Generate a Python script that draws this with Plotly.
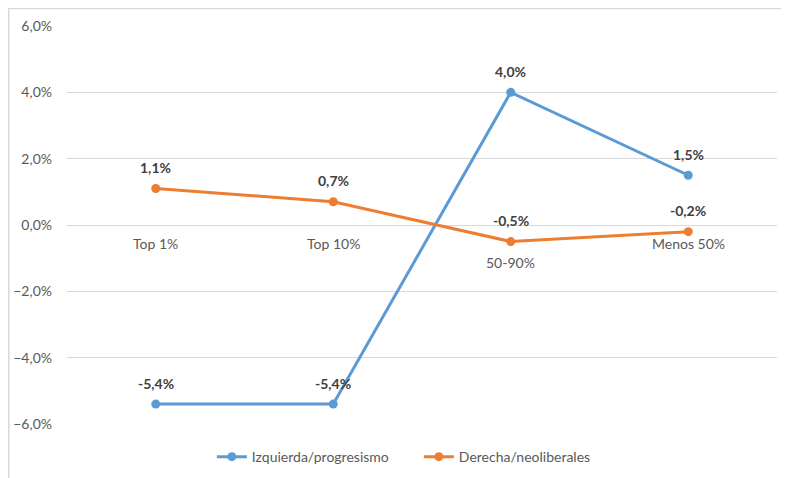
import plotly.graph_objects as go

# Data
categorias = ['Top 1%', 'Top 10%', '50-90%', 'Menos 50%']
izquierda = [-0.054, -0.054, 0.040, 0.015]
derecha = [0.011, 0.007, -0.005, -0.002]
# vertical offset of each category label (the 50-90% label sits lower)
label_shift = [-18, -18, -37, -18]

def fmt(v):
    return '{:.1f}%'.format(v * 100).replace('.', ',')

font_name = 'Lato, Open Sans, sans-serif'

fig = go.Figure()
for name, vals, color in [('Izquierda/progresismo', izquierda, '#5B9BD5'),
                          ('Derecha/neoliberales', derecha, '#ED7D31')]:
    fig.add_trace(go.Scatter(x=categorias, y=vals, name=name, mode='lines+markers',
                             line=dict(color=color, width=3),
                             marker=dict(size=9, color=color)))
    # data labels above the points
    for cat, v in zip(categorias, vals):
        fig.add_annotation(x=cat, y=v, text='<b>' + fmt(v) + '</b>', showarrow=False,
                           yshift=21, font=dict(color='#404040', size=14, family=font_name))

for cat, s in zip(categorias, label_shift):
    fig.add_annotation(x=cat, y=0, text=cat, showarrow=False, yshift=s,
                       font=dict(color='#595959', size=14, family=font_name))

# outer chart border
fig.add_shape(type='rect', xref='paper', yref='paper',
              x0=-0.082, x1=1.03, y0=-0.2, y1=1.044,
              line=dict(color='#d9d9d9', width=1.5))

fig.update_layout(
    width=781, height=470,
    margin=dict(l=59, r=12, t=18, b=54, autoexpand=False),
    paper_bgcolor='white', plot_bgcolor='white',
    separators=',.',
    font=dict(family=font_name, color='#595959', size=14),
    showlegend=True,
    legend=dict(orientation='h', x=0.204, xanchor='left', y=-0.083, yanchor='middle',
                entrywidth=162, entrywidthmode='pixels',
                font=dict(size=14, color='#595959')),
    xaxis=dict(range=[-0.5, 3.5], showticklabels=False, showgrid=False,
               zeroline=False, showline=False, automargin=False),
    yaxis=dict(range=[-0.06, 0.06], tickvals=[-0.06, -0.04, -0.02, 0, 0.02, 0.04, 0.06],
               tickformat='.1%', gridcolor='#d9d9d9', zeroline=True, zerolinecolor='#d9d9d9',
               zerolinewidth=1, showline=False, ticks='', automargin=False,
               ticklabelstandoff=14),
)

fig.write_html('out.html')
